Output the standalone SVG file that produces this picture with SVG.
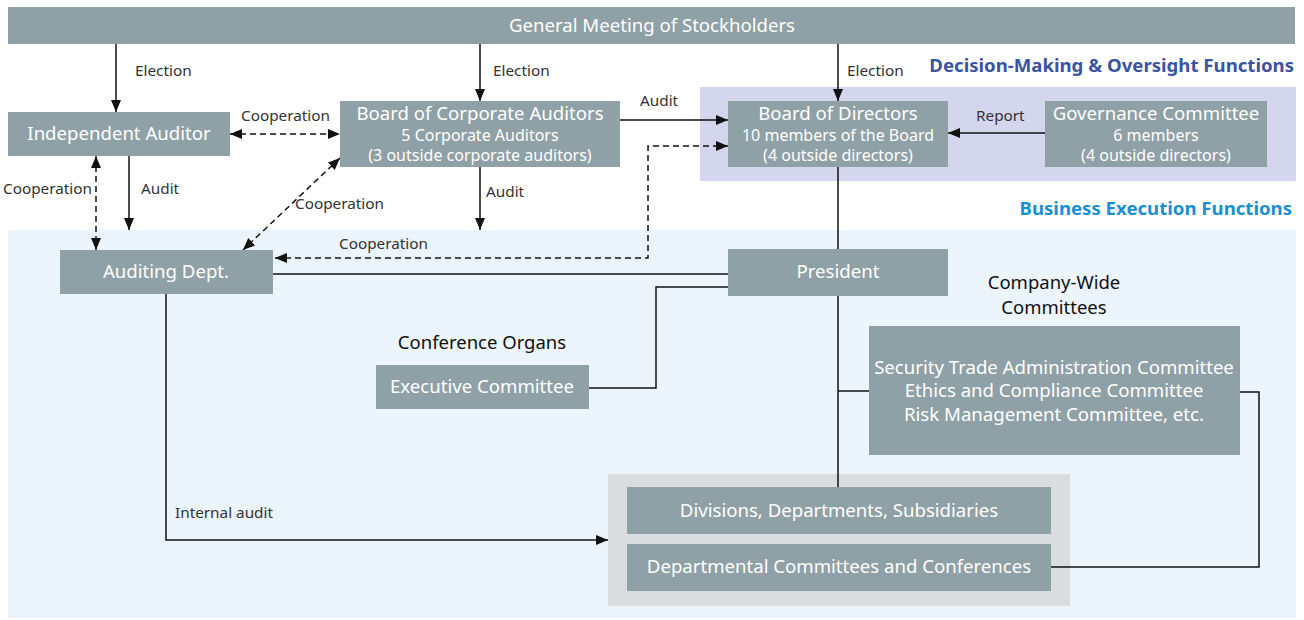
<svg xmlns="http://www.w3.org/2000/svg" width="1304" height="620" viewBox="0 0 1304 620">
<style>
.box{fill:#8fa1a6}
.t{font-family:"Noto Sans","Open Sans","DejaVu Sans",sans-serif;fill:#fff;text-anchor:middle}
.t17{font-size:18.6px}
.t15{font-size:16px}
.lbl{font-family:"Noto Sans","Open Sans","DejaVu Sans",sans-serif;font-size:15.3px;fill:#333}
.hd{font-family:"Noto Sans","Open Sans","DejaVu Sans",sans-serif;font-size:18.5px;fill:#111;text-anchor:middle}
.ln{fill:none;stroke:#111;stroke-width:1.5}
.dash{fill:none;stroke:#111;stroke-width:1.5;stroke-dasharray:6 4}
</style>
<defs>
<marker id="ah" markerUnits="userSpaceOnUse" markerWidth="12" markerHeight="10" refX="12" refY="5" orient="auto-start-reverse"><path d="M0,0 L12,5 L0,10 Z" fill="#111"/></marker>
</defs>
<rect width="1304" height="620" fill="#fff"/>
<rect x="700" y="87" width="596" height="94" fill="#d3d6ec"/>
<rect x="8" y="230" width="1288" height="388" fill="#ecf4fc"/>
<rect x="608" y="474" width="462" height="132" fill="#d9dde0"/>
<text x="1294" y="72" font-family="Noto Sans, Open Sans, sans-serif" font-size="18.6" font-weight="bold" fill="#3a53a4" text-anchor="end">Decision-Making &amp; Oversight Functions</text>
<text x="1292" y="215" font-family="Noto Sans, Open Sans, sans-serif" font-size="18.6" font-weight="bold" fill="#1a8fd3" text-anchor="end">Business Execution Functions</text>

<g id="connectors">
<line class="ln" x1="116" y1="44" x2="116" y2="112" marker-end="url(#ah)"/>
<line class="ln" x1="480" y1="44" x2="480" y2="101" marker-end="url(#ah)"/>
<line class="ln" x1="838" y1="44" x2="838" y2="101" marker-end="url(#ah)"/>
<line class="ln" x1="1045" y1="133" x2="948" y2="133" marker-end="url(#ah)"/>
<line class="ln" x1="620" y1="120" x2="728" y2="120" marker-end="url(#ah)"/>
<line class="dash" x1="230" y1="134" x2="340" y2="134" marker-start="url(#ah)" marker-end="url(#ah)"/>
<line class="dash" x1="96" y1="156" x2="96" y2="250" marker-start="url(#ah)" marker-end="url(#ah)"/>
<line class="ln" x1="129" y1="156" x2="129" y2="230" marker-end="url(#ah)"/>
<line class="ln" x1="480" y1="167" x2="480" y2="230" marker-end="url(#ah)"/>
<line class="dash" x1="340" y1="158" x2="243" y2="250" marker-start="url(#ah)" marker-end="url(#ah)"/>
<polyline class="dash" points="275,258 648,258 648,146 728,146" marker-start="url(#ah)" marker-end="url(#ah)"/>
<line class="ln" x1="273" y1="274" x2="728" y2="274"/>
<line class="ln" x1="838" y1="167" x2="838" y2="249"/>
<line class="ln" x1="838" y1="296" x2="838" y2="487"/>
<polyline class="ln" points="589,388 656,388 656,287 728,287"/>
<line class="ln" x1="838" y1="391" x2="869" y2="391"/>
<polyline class="ln" points="1240,392 1259,392 1259,567 1051,567"/>
<polyline class="ln" points="166,294 166,540 608,540" marker-end="url(#ah)"/>
<text class="lbl" x="135" y="76">Election</text>
<text class="lbl" x="493" y="76">Election</text>
<text class="lbl" x="847" y="76">Election</text>
<text class="lbl" x="976" y="121">Report</text>
<text class="lbl" x="640" y="106">Audit</text>
<text class="lbl" x="241" y="121">Cooperation</text>
<text class="lbl" x="3" y="194">Cooperation</text>
<text class="lbl" x="141" y="194">Audit</text>
<text class="lbl" x="486" y="197">Audit</text>
<text class="lbl" x="295" y="209">Cooperation</text>
<text class="lbl" x="339" y="249">Cooperation</text>
<text class="lbl" x="175" y="518">Internal audit</text>
</g>

<g id="general-meeting"><rect class="box" x="8" y="7" width="1287" height="37"/><text class="t t17" x="652" y="32">General Meeting of Stockholders</text></g>
<g id="independent-auditor"><rect class="box" x="8" y="112" width="222" height="44"/><text class="t t17" x="119" y="140">Independent Auditor</text></g>
<g id="board-corporate-auditors"><rect class="box" x="340" y="101" width="280" height="66"/><text class="t t17" x="480" y="120">Board of Corporate Auditors</text><text class="t t15" x="480" y="141">5 Corporate Auditors</text><text class="t t15" x="480" y="161">(3 outside corporate auditors)</text></g>
<g id="board-directors"><rect class="box" x="728" y="101" width="220" height="66"/><text class="t t17" x="838" y="120">Board of Directors</text><text class="t t15" x="838" y="141">10 members of the Board</text><text class="t t15" x="838" y="161">(4 outside directors)</text></g>
<g id="governance-committee"><rect class="box" x="1045" y="101" width="222" height="66"/><text class="t t17" x="1156" y="120">Governance Committee</text><text class="t t15" x="1156" y="141">6 members</text><text class="t t15" x="1156" y="161">(4 outside directors)</text></g>
<g id="auditing-dept"><rect class="box" x="60" y="250" width="213" height="44"/><text class="t t17" x="166" y="278">Auditing Dept.</text></g>
<g id="president"><rect class="box" x="728" y="249" width="220" height="47"/><text class="t t17" x="838" y="278">President</text></g>
<g id="executive-committee"><text class="hd" x="482" y="349">Conference Organs</text><rect class="box" x="376" y="365" width="213" height="44"/><text class="t t17" x="482" y="393">Executive Committee</text></g>
<g id="company-wide-committees"><text class="hd" x="1054" y="289" font-size="18">Company-Wide</text><text class="hd" x="1054" y="313.5" font-size="18">Committees</text><rect class="box" x="869" y="326" width="371" height="129"/><text class="t t17" x="1054" y="374">Security Trade Administration Committee</text><text class="t t17" x="1054" y="397">Ethics and Compliance Committee</text><text class="t t17" x="1054" y="421">Risk Management Committee, etc.</text></g>
<g id="divisions"><rect class="box" x="627" y="487" width="424" height="47"/><text class="t t17" x="839" y="517">Divisions, Departments, Subsidiaries</text></g>
<g id="departmental-committees"><rect class="box" x="627" y="544" width="424" height="47"/><text class="t t17" x="839" y="573">Departmental Committees and Conferences</text></g>
</svg>
